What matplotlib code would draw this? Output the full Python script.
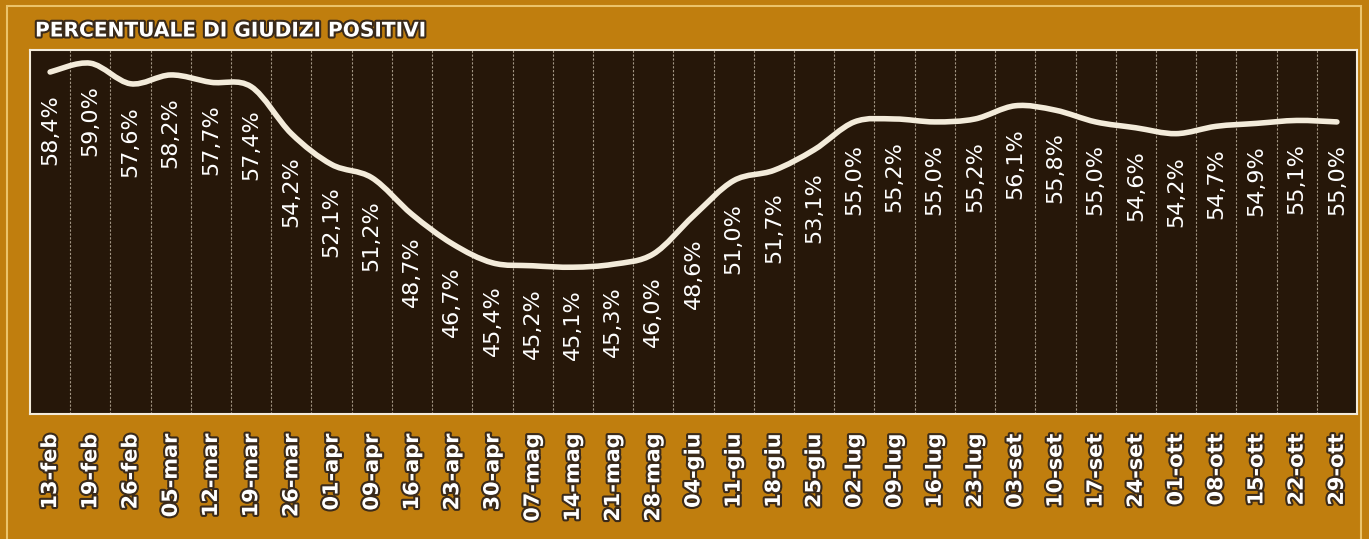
import matplotlib.pyplot as plt
import matplotlib.patheffects as pe
from matplotlib.path import Path
from matplotlib.patches import PathPatch, Rectangle

date_labels = ["13-feb", "19-feb", "26-feb", "05-mar", "12-mar", "19-mar", "26-mar",
               "01-apr", "09-apr", "16-apr", "23-apr", "30-apr", "07-mag", "14-mag",
               "21-mag", "28-mag", "04-giu", "11-giu", "18-giu", "25-giu", "02-lug",
               "09-lug", "16-lug", "23-lug", "03-set", "10-set", "17-set", "24-set",
               "01-ott", "08-ott", "15-ott", "22-ott", "29-ott"]
positive_pct = [58.4, 59.0, 57.6, 58.2, 57.7, 57.4, 54.2, 52.1, 51.2, 48.7, 46.7,
                45.4, 45.2, 45.1, 45.3, 46.0, 48.6, 51.0, 51.7, 53.1, 55.0, 55.2,
                55.0, 55.2, 56.1, 55.8, 55.0, 54.6, 54.2, 54.7, 54.9, 55.1, 55.0]

orange = "#C07E0E"
dark = "#261709"
cream = "#F3EBDA"

fig = plt.figure(figsize=(13.69, 5.39), dpi=100, facecolor=orange)
ax = fig.add_axes([30 / 1369, 1 - 414 / 539, 1327 / 1369, 364 / 539])
ax.set_facecolor(dark)
for s in ax.spines.values():
    s.set_color(cream)
    s.set_linewidth(1.5)

n = len(positive_pct)
xs = list(range(n))
ax.set_xlim(-0.5, n - 0.5)
ax.set_ylim(35.1, 59.9)

# dashed separators between weeks
for k in range(1, n):
    ax.axvline(k - 0.5, color="#d8cbb8", lw=0.8, ls=(0, (2, 1.5)), alpha=0.7)

# smooth curve through the points (Catmull-Rom as cubic Beziers)
verts = [(xs[0], positive_pct[0])]
codes = [Path.MOVETO]
for i in range(n - 1):
    p0 = (xs[max(i - 1, 0)], positive_pct[max(i - 1, 0)])
    p1 = (xs[i], positive_pct[i])
    p2 = (xs[i + 1], positive_pct[i + 1])
    p3 = (xs[min(i + 2, n - 1)], positive_pct[min(i + 2, n - 1)])
    c1 = (p1[0] + (p2[0] - p0[0]) / 6, p1[1] + (p2[1] - p0[1]) / 6)
    c2 = (p2[0] - (p3[0] - p1[0]) / 6, p2[1] - (p3[1] - p1[1]) / 6)
    verts += [c1, c2, p2]
    codes += [Path.CURVE4] * 3
ax.add_patch(PathPatch(Path(verts, codes), fill=False, edgecolor=cream, lw=4,
                       capstyle="round", joinstyle="round", zorder=3))

for x, v in zip(xs, positive_pct):
    ax.annotate(f"{v:.1f}%".replace(".", ","), (x, v), xytext=(0, -16),
                textcoords="offset points", rotation=90, ha="center", va="top",
                color="white", fontsize=16, fontweight="medium", zorder=4)

stroke = [pe.withStroke(linewidth=3, foreground="#3a2a1a")]
ax.set_xticks(xs)
ax.set_xticklabels(date_labels, rotation=90, fontsize=15, fontweight="bold",
                   color="white", path_effects=stroke)
ax.tick_params(axis="x", length=0, pad=14)
ax.set_yticks([])

fig.text(35 / 1369, 1 - 31 / 539, "PERCENTUALE DI GIUDIZI POSITIVI", color="white",
         fontsize=14.5, fontweight="bold", va="center", ha="left", path_effects=stroke)

fig.patches.append(Rectangle((7 / 1369, -0.01), 1354 / 1369, 1 - 6 / 539 + 0.01,
                             transform=fig.transFigure, fill=False,
                             edgecolor="#EBC36A", lw=1.5))

fig.savefig("out.png", dpi=100, facecolor=orange)
